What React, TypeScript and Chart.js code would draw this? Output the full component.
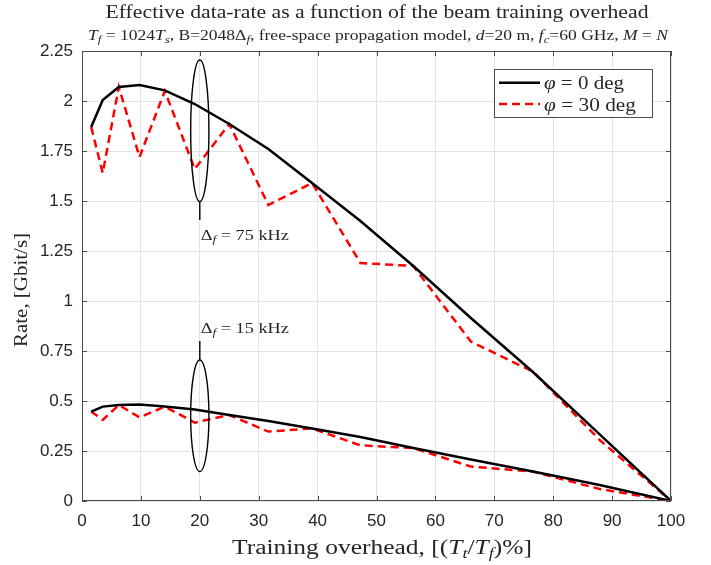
import React, { useEffect, useRef } from 'react';
import { Chart, registerables } from 'chart.js';

Chart.register(...registerables);

// ---------- data ----------
const overhead = [1.56, 3.52, 6.25, 9.77, 14.06, 19.14, 25, 31.64, 39.06, 47.27, 56.25, 66.02, 76.56, 87.89, 100];
const rate75Phi0 = [1.87, 2.005, 2.07, 2.08, 2.053, 1.985, 1.885, 1.76, 1.59, 1.40, 1.175, 0.915, 0.645, 0.333, 0];
const rate75Phi30 = [1.87, 1.64, 2.07, 1.72, 2.05, 1.66, 1.885, 1.48, 1.59, 1.19, 1.175, 0.797, 0.647, 0.305, 0];
const rate15Phi0 = [0.447, 0.472, 0.48, 0.482, 0.472, 0.458, 0.43, 0.40, 0.363, 0.32, 0.265, 0.208, 0.147, 0.08, 0];
const rate15Phi30 = [0.447, 0.405, 0.48, 0.418, 0.472, 0.392, 0.43, 0.347, 0.363, 0.278, 0.265, 0.172, 0.147, 0.06, 0];

const xTickValues = [0, 10, 20, 30, 40, 50, 60, 70, 80, 90, 100];
const xTickLabels = ['0', '10', '20', '30', '40', '50', '60', '70', '80', '90', '100'];
const yTickValues = [0, 0.25, 0.5, 0.75, 1, 1.25, 1.5, 1.75, 2, 2.25];
const yTickLabels = ['0', '0.25', '0.5', '0.75', '1', '1.25', '1.5', '1.75', '2', '2.25'];

// annotation ellipses (data units)
const ellipseX = [20, 20];
const ellipseTop = [2.205, 0.705];
const ellipseBottom = [1.497, 0.147];
const ellipseHalfWidth = 1.55;
const leaderFrom = [1.497, 0.705];
const leaderTo = [1.405, 0.8];
const annotationY = [1.305, 0.839];
const annotationValues = ['75', '15'];

const legendLabels = ['0', '30'];

type Seg = { t: string; it?: boolean; sub?: boolean };

const TEXT = '#262626';
const SERIF = '"Liberation Serif", "DejaVu Serif", serif';
const SANS = '"Liberation Sans", Arial, sans-serif';

const titleSegs: Seg[] = [{ t: 'Effective data-rate as a function of the beam training overhead' }];
const subtitleSegs: Seg[] = [
  { t: 'T', it: true }, { t: 'f', it: true, sub: true }, { t: ' = 1024' },
  { t: 'T', it: true }, { t: 's', it: true, sub: true }, { t: ', B=2048\u0394' },
  { t: 'f', it: true, sub: true }, { t: ', free-space propagation model, ' },
  { t: 'd', it: true }, { t: '=20 m, ' }, { t: 'f', it: true }, { t: 'c', it: true, sub: true },
  { t: '=60 GHz, ' }, { t: 'M', it: true }, { t: ' = ' }, { t: 'N', it: true },
];
const xLabelSegs: Seg[] = [
  { t: 'Training overhead, [(' }, { t: 'T', it: true }, { t: 't', it: true, sub: true },
  { t: '/' }, { t: 'T', it: true }, { t: 'f', it: true, sub: true }, { t: ')%]' },
];
const yLabelSegs: Seg[] = [{ t: 'Rate, [Gbit/s]' }];

function segFont(s: Seg, size: number) {
  const sz = s.sub ? size * 0.72 : size;
  return `${s.it ? 'italic ' : ''}${sz}px ${SERIF}`;
}
function richWidth(ctx: CanvasRenderingContext2D, segs: Seg[], size: number) {
  let w = 0;
  for (const s of segs) {
    ctx.font = segFont(s, size);
    w += ctx.measureText(s.t).width;
  }
  return w;
}
// draw rich text at given font size, stretched horizontally to the target width
function drawRich(ctx: CanvasRenderingContext2D, segs: Seg[], x: number, y: number, size: number, align: 'left' | 'center', target: number) {
  const w = richWidth(ctx, segs, size);
  const sx = target / w;
  const x0 = align === 'center' ? x - target / 2 : x;
  ctx.save();
  ctx.translate(x0, y);
  ctx.scale(sx, 1);
  ctx.textAlign = 'left';
  ctx.textBaseline = 'alphabetic';
  ctx.fillStyle = TEXT;
  let cx = 0;
  for (const s of segs) {
    ctx.font = segFont(s, size);
    ctx.fillText(s.t, cx, s.sub ? size * 0.22 : 0);
    cx += ctx.measureText(s.t).width;
  }
  ctx.restore();
}

const decorPlugin = {
  id: 'decor',
  afterDatasetsDraw(chart: any) {
    const ctx: CanvasRenderingContext2D = chart.ctx;
    const xs = chart.scales.x;
    const ys = chart.scales.y;
    const a = chart.chartArea;
    ctx.save();

    // axes box + inward ticks
    ctx.strokeStyle = '#4d4d4d';
    ctx.lineWidth = 1;
    ctx.strokeRect(a.left + 0.5, a.top + 0.5, a.right - a.left - 1, a.bottom - a.top - 1);
    ctx.beginPath();
    const tl = 5;
    for (const v of xTickValues) {
      const px = Math.round(xs.getPixelForValue(v)) + 0.5;
      ctx.moveTo(px, a.bottom); ctx.lineTo(px, a.bottom - tl);
      ctx.moveTo(px, a.top); ctx.lineTo(px, a.top + tl);
    }
    for (const v of yTickValues) {
      const py = Math.round(ys.getPixelForValue(v)) + 0.5;
      ctx.moveTo(a.left, py); ctx.lineTo(a.left + tl, py);
      ctx.moveTo(a.right, py); ctx.lineTo(a.right - tl, py);
    }
    ctx.stroke();

    // ellipses + leaders + labels
    ctx.strokeStyle = '#000';
    ctx.lineWidth = 1.4;
    for (let i = 0; i < ellipseX.length; i++) {
      const cx = xs.getPixelForValue(ellipseX[i]);
      const rx = xs.getPixelForValue(ellipseX[i] + ellipseHalfWidth) - cx;
      const yt = ys.getPixelForValue(ellipseTop[i]);
      const yb = ys.getPixelForValue(ellipseBottom[i]);
      ctx.beginPath();
      ctx.ellipse(cx, (yt + yb) / 2, rx, (yb - yt) / 2, 0, 0, Math.PI * 2);
      ctx.stroke();
      ctx.beginPath();
      ctx.moveTo(cx, ys.getPixelForValue(leaderFrom[i]));
      ctx.lineTo(cx, ys.getPixelForValue(leaderTo[i]));
      ctx.stroke();
      const segs: Seg[] = [{ t: '\u0394' }, { t: 'f', it: true, sub: true }, { t: ` = ${annotationValues[i]} kHz` }];
      drawRich(ctx, segs, cx + 1, ys.getPixelForValue(annotationY[i]), 14.5, 'left', 88);
    }

    // legend
    const lx = 494, ly = 69, lw = 158, lh = 48;
    ctx.fillStyle = '#fff';
    ctx.fillRect(lx, ly, lw, lh);
    ctx.strokeStyle = '#4d4d4d';
    ctx.lineWidth = 1;
    ctx.strokeRect(lx + 0.5, ly + 0.5, lw, lh);
    const rows = [82.7, 104];
    const legW = [80, 92];
    chart.data.datasets.slice(0, 2).forEach((ds: any, i: number) => {
      ctx.strokeStyle = ds.borderColor;
      ctx.lineWidth = 2.5;
      ctx.setLineDash(ds.borderDash || []);
      ctx.beginPath();
      ctx.moveTo(499, rows[i]);
      ctx.lineTo(540, rows[i]);
      ctx.stroke();
      ctx.setLineDash([]);
      drawRich(ctx, [{ t: '\u03c6', it: true }, { t: ` = ${legendLabels[i]} deg` }], 544, rows[i] + 6.5, 19.5, 'left', legW[i]);
    });

    // titles
    drawRich(ctx, titleSegs, 377, 18, 18.5, 'center', 543);
    drawRich(ctx, subtitleSegs, 378, 40, 14.5, 'center', 580);
    drawRich(ctx, xLabelSegs, 382, 554, 20, 'center', 300);
    ctx.save();
    ctx.translate(21, 290);
    ctx.rotate(-Math.PI / 2);
    drawRich(ctx, yLabelSegs, 0, 6, 19, 'center', 114);
    ctx.restore();

    ctx.restore();
  },
};

function pts(ys: number[]) {
  return overhead.map((x, i) => ({ x, y: ys[i] }));
}

export default function App() {
  const ref = useRef<HTMLCanvasElement | null>(null);
  useEffect(() => {
    if (!ref.current) return;
    const black = '#000000';
    const red = '#ff0000';
    const chart = new Chart(ref.current, {
      type: 'line',
      data: {
        datasets: [
          { label: 'phi0-75', data: pts(rate75Phi0), borderColor: black, borderWidth: 2.5 },
          { label: 'phi30-75', data: pts(rate75Phi30), borderColor: red, borderWidth: 2.5, borderDash: [8, 5] },
          { label: 'phi0-15', data: pts(rate15Phi0), borderColor: black, borderWidth: 2.5 },
          { label: 'phi30-15', data: pts(rate15Phi30), borderColor: red, borderWidth: 2.5, borderDash: [8, 5] },
        ].map((d) => ({ ...d, pointRadius: 0, tension: 0, fill: false })) as any,
      },
      options: {
        responsive: false,
        animation: false,
        devicePixelRatio: 1,
        layout: { padding: { top: 51, right: 40, left: 0, bottom: 0 } },
        plugins: { legend: { display: false }, title: { display: false }, tooltip: { enabled: false } },
        scales: {
          x: {
            type: 'linear',
            min: 0,
            max: 100,
            afterFit: (s: any) => { s.height = 64; },
            afterBuildTicks: (s: any) => { s.ticks = xTickValues.map((v) => ({ value: v })); },
            ticks: {
              padding: 10,
              color: TEXT,
              font: { family: SANS, size: 17 },
              maxRotation: 0,
              callback: (_v: any, i: number) => xTickLabels[i],
            },
            grid: { color: '#e3e3e3', drawTicks: false, lineWidth: 1 },
            border: { display: false },
          },
          y: {
            type: 'linear',
            min: 0,
            max: 2.25,
            afterFit: (s: any) => { s.width = 82; },
            afterBuildTicks: (s: any) => { s.ticks = yTickValues.map((v) => ({ value: v })); },
            ticks: {
              padding: 9,
              color: TEXT,
              font: { family: SANS, size: 17 },
              callback: (_v: any, i: number) => yTickLabels[i],
            },
            grid: { color: '#e3e3e3', drawTicks: false, lineWidth: 1 },
            border: { display: false },
          },
        },
      },
      plugins: [decorPlugin],
    });
    return () => chart.destroy();
  }, []);
  return (
    <div style={{ position: 'fixed', left: 0, top: 0, width: 711, height: 565, background: '#fff' }}>
      <canvas ref={ref} width={711} height={565} style={{ display: 'block' }} />
    </div>
  );
}
